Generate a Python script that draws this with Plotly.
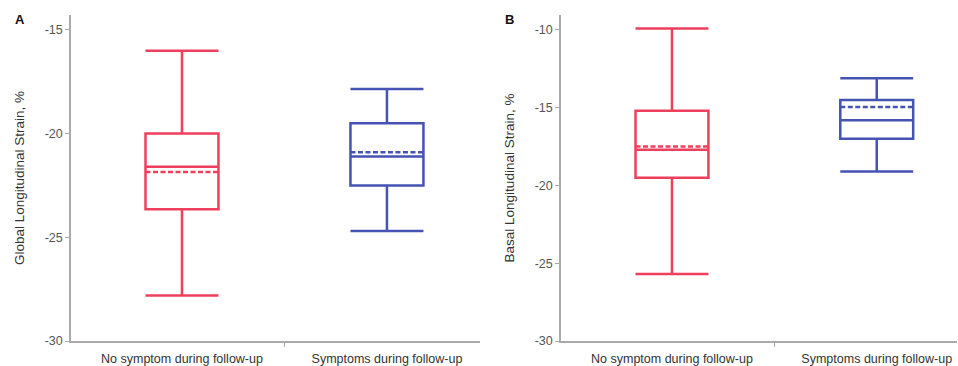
import plotly.graph_objects as go

# ---- data ----
categories = ["No symptom during follow-up", "Symptoms during follow-up"]
group_colors = ["#EE3F5C", "#4553B2"]

# Panel A: Global Longitudinal Strain, %
gls_upper = [-16.0, -17.85]
gls_q3 = [-20.0, -19.5]
gls_median = [-21.6, -21.1]
gls_mean = [-21.85, -20.9]
gls_q1 = [-23.65, -22.5]
gls_lower = [-27.8, -24.7]

# Panel B: Basal Longitudinal Strain, %
bls_upper = [-9.9, -13.1]
bls_q3 = [-15.2, -14.5]
bls_median = [-17.7, -15.8]
bls_mean = [-17.5, -14.95]
bls_q1 = [-19.5, -17.0]
bls_lower = [-25.7, -19.1]

yticks_a = [-30, -25, -20, -15]
ytext_a = ["-30", "-25", "-20", "-15"]
yticks_b = [-30, -25, -20, -15, -10]
ytext_b = ["-30", "-25", "-20", "-15", "-10"]

W, H = 958, 366
fig = go.Figure()

def add_boxes(upper, q3, med, mean, q1, lower, xa, ya):
    for i in range(len(categories)):
        fig.add_trace(go.Box(
            x=[i], q1=[q1[i]], median=[med[i]], q3=[q3[i]],
            lowerfence=[lower[i]], upperfence=[upper[i]], mean=[mean[i]],
            boxmean=True, width=0.356, whiskerwidth=1,
            line=dict(color=group_colors[i], width=2.5),
            fillcolor="rgba(0,0,0,0)", marker=dict(color=group_colors[i]),
            xaxis=xa, yaxis=ya, showlegend=False, hoverinfo="skip",
        ))

add_boxes(gls_upper, gls_q3, gls_median, gls_mean, gls_q1, gls_lower, "x", "y")
add_boxes(bls_upper, bls_q3, bls_median, bls_mean, bls_q1, bls_lower, "x2", "y2")

axis_col = "#aaaaaa"
tick_font = dict(family="Liberation Sans, Arial", size=12.5, color="#333333")

xcommon = dict(
    tickmode="array", tickvals=[0, 1], ticktext=categories, ticks="",
    showline=True, linecolor=axis_col, linewidth=1.5, showgrid=False,
    zeroline=False, tickfont=tick_font, ticklabelstandoff=5,
    minor=dict(tickmode="array", tickvals=[0.5], ticks="outside",
               ticklen=4, tickcolor=axis_col, tickwidth=1),
)
ycommon = dict(
    tickmode="array", ticks="outside", ticklen=4, tickcolor=axis_col,
    showline=True, linecolor=axis_col, linewidth=1.5, showgrid=False,
    zeroline=False, tickfont=dict(family="Liberation Sans, Arial", size=12.5, color="#555555"),
    title_font=dict(family="Liberation Sans, Arial", size=13.5, color="#333333"),
    title_standoff=17,
)

fig.update_layout(
    width=W, height=H,
    margin=dict(l=0, r=0, t=15, b=25),
    paper_bgcolor="white", plot_bgcolor="white",
    xaxis=dict(domain=[71 / W, 480 / W], range=[-0.5415, 1.454], anchor="y", **xcommon),
    yaxis=dict(range=[-30, -14.28], tickvals=yticks_a, ticktext=ytext_a,
               title_text="Global Longitudinal Strain, %", anchor="x", **ycommon),
    xaxis2=dict(domain=[561 / W, 957 / W], range=[-0.542, 1.392], anchor="y2", **xcommon),
    yaxis2=dict(range=[-30, -9.04], tickvals=yticks_b, ticktext=ytext_b,
                title_text="Basal Longitudinal Strain, %", anchor="x2", **ycommon),
    annotations=[
        dict(text="<b>A</b>", x=13 / W, y=1, xref="paper", yref="paper",
             xanchor="left", yanchor="middle", yshift=-4, showarrow=False,
             font=dict(family="Liberation Sans, Arial", size=13, color="#111111")),
        dict(text="<b>B</b>", x=503 / W, y=1, xref="paper", yref="paper",
             xanchor="left", yanchor="middle", yshift=-4, showarrow=False,
             font=dict(family="Liberation Sans, Arial", size=13, color="#111111")),
    ],
)

fig.write_html("out.html")
